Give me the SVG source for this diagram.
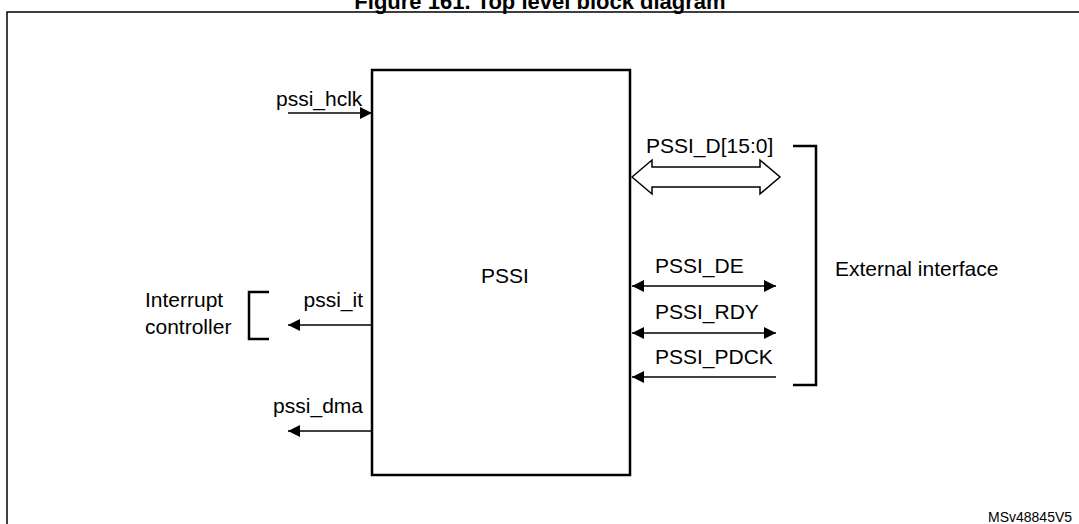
<svg xmlns="http://www.w3.org/2000/svg" width="1079" height="524" viewBox="0 0 1079 524">
<style>
text{font-family:"Liberation Sans",Arial,sans-serif;font-size:21px;fill:#000}
.ln{stroke:#000;stroke-width:1.5;fill:none}
.th{stroke:#000;stroke-width:2.5;fill:none}
</style>
<defs>
<marker id="ah" viewBox="0 0 10 10" refX="10" refY="5" markerWidth="14" markerHeight="12" markerUnits="userSpaceOnUse" orient="auto-start-reverse"><path d="M0,0L10,5L0,10Z" fill="#000"/></marker>
</defs>
<rect width="1079" height="524" fill="#fff"/>
<text x="540" y="9" text-anchor="middle" style="font-weight:bold;font-size:22px">Figure 161. Top level block diagram</text>
<path d="M7,530V12H1085" class="ln"/>
<g id="pssi"><rect x="372" y="70" width="258" height="405" class="th"/><text x="505" y="283" text-anchor="middle">PSSI</text></g>
<g id="intc"><path d="M269,292H249V339H269" class="th"/><text x="145" y="307">Interrupt</text><text x="145" y="334">controller</text></g>
<g id="ext"><path d="M793,146H816V385H793" class="th"/><text x="835" y="276">External interface</text></g>
<g id="connectors">
<line x1="288" y1="113" x2="372" y2="113" class="ln" marker-end="url(#ah)"/>
<line x1="372" y1="325" x2="288" y2="325" class="ln" marker-end="url(#ah)"/>
<line x1="372" y1="431" x2="288" y2="431" class="ln" marker-end="url(#ah)"/>
<path d="M632,177L652,160V167H760V160L780,177L760,194V187H652V194Z" class="ln" fill="#fff"/>
<line x1="632" y1="286" x2="776" y2="286" class="ln" marker-start="url(#ah)" marker-end="url(#ah)"/>
<line x1="632" y1="333" x2="776" y2="333" class="ln" marker-start="url(#ah)" marker-end="url(#ah)"/>
<line x1="776" y1="377" x2="632" y2="377" class="ln" marker-end="url(#ah)"/>
</g>
<text x="276" y="106">pssi_hclk</text>
<text x="363" y="307" text-anchor="end">pssi_it</text>
<text x="363" y="413" text-anchor="end">pssi_dma</text>
<text x="646" y="153">PSSI_D[15:0]</text>
<text x="655" y="273">PSSI_DE</text>
<text x="655" y="319">PSSI_RDY</text>
<text x="655" y="364">PSSI_PDCK</text>
<text x="988" y="522" style="font-size:14px">MSv48845V5</text>
</svg>
